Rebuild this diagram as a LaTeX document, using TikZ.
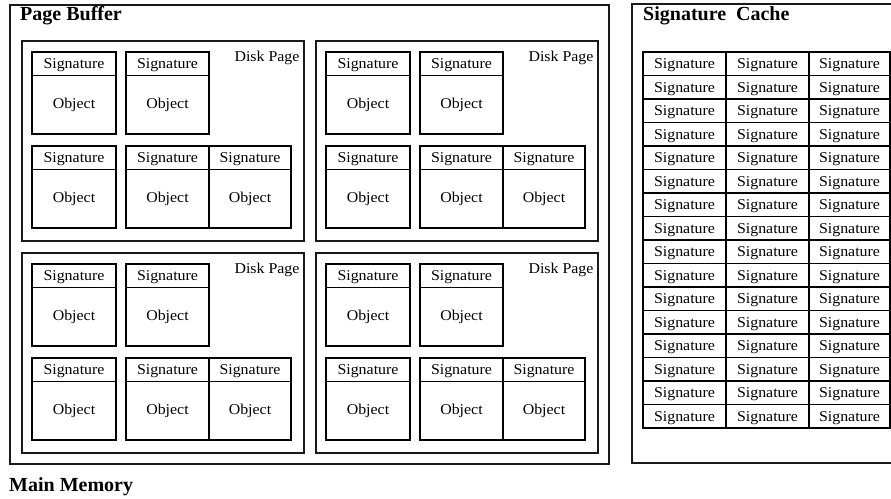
\documentclass[tikz,border=0pt]{standalone}
\usepackage{fontspec}
\setmainfont{Liberation Serif}[FakeStretch=1.06]
\newfontfamily\titlefont{Liberation Serif}
\begin{document}
\begin{tikzpicture}[x=1pt,y=-1pt,
  frame/.style={draw=black!90,line width=1.7pt},
  cell/.style={draw=black,line width=1.4pt,rectangle,inner sep=0pt,outer sep=0pt,
    font=\fontsize{15}{17}\selectfont},
  sigcell/.style={cell,text depth=0pt},
  title/.style={font=\titlefont\bfseries\fontsize{20}{22}\selectfont,inner sep=0pt,anchor=west},
  pagelabel/.style={font=\fontsize{15}{17}\selectfont,inner sep=0pt,anchor=base east}]
\useasboundingbox (0,0) rectangle (891,498);
\fill[white] (0,0) rectangle (891,498);
% Page buffer
\node[frame,rectangle,inner sep=0pt,anchor=north west,minimum width=599pt,minimum height=459pt] (pb) at (9,4) {};
\node[title] (pbt) at (20,16) {Page Buffer};
% object block macro
\newcommand\objblk[4]{%
  \node[sigcell,anchor=north west,minimum width=#4pt,minimum height=23.5pt] (#1s) at (#2,#3) {Signature};
  \node[cell,anchor=north,minimum width=#4pt,minimum height=58.5pt] (#1o) at (#1s.south) {Object};}
\newcommand\diskpage[3]{%
  \node[frame,rectangle,inner sep=0pt,anchor=north west,minimum width=282pt,minimum height=200pt] (#1) at (#2,#3) {};
  \node[pagelabel] (#1l) at ([xshift=-5pt,yshift=-21pt]#1.north east) {Disk Page};
  \objblk{#1a}{#2+11}{#3+12}{84}
  \objblk{#1b}{#2+105}{#3+12}{83}
  \objblk{#1c}{#2+11}{#3+106}{84}
  \objblk{#1d}{#2+105}{#3+106}{83}
  \objblk{#1e}{#2+188}{#3+106}{82}}
\diskpage{dp1}{21}{40}
\diskpage{dp2}{315}{40}
\diskpage{dp3}{21}{252}
\diskpage{dp4}{315}{252}
% Signature cache
\coordinate (c1) at (895,4);
\coordinate (c2) at (632,4);
\coordinate (c3) at (632,463);
\coordinate (c4) at (895,463);
\draw[frame] (c1) -- (c2) -- (c3) -- (c4);
\node[title] (sct) at (643,16) {Signature\ \ Cache};
\foreach \r in {0,...,15}{
  \node[sigcell,anchor=north west,minimum width=83pt,minimum height=23.5pt] (g\r a) at (643,52+23.5*\r) {Signature};
  \node[sigcell,anchor=north west,minimum width=83pt,minimum height=23.5pt] (g\r b) at (726,52+23.5*\r) {Signature};
  \node[sigcell,anchor=north west,minimum width=81pt,minimum height=23.5pt] (g\r c) at (809,52+23.5*\r) {Signature};
}
% Main memory
\node[title] (mm) at (9,487) {Main Memory};
\end{tikzpicture}
\end{document}
